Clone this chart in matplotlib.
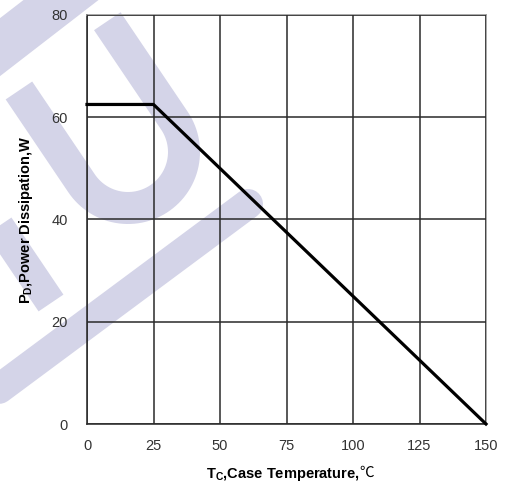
import numpy as np
import matplotlib
matplotlib.use("Agg")
import matplotlib.pyplot as plt
from matplotlib.patches import Polygon
from matplotlib.lines import Line2D

# derating curve
temp_c = [0, 25, 150]
power_w = [62.5, 62.5, 0]
x_ticks = [0, 25, 50, 75, 100, 125, 150]
y_ticks = [0, 20, 40, 60, 80]

W, H = 508, 488
plt.rcParams['font.family'] = ['Liberation Sans', 'DejaVu Sans']
plt.rcParams['mathtext.fontset'] = 'custom'
plt.rcParams['mathtext.rm'] = 'Liberation Sans:bold'
plt.rcParams['mathtext.bf'] = 'Liberation Sans:bold'

fig = plt.figure(figsize=(W / 100, H / 100), dpi=100)
fig.patch.set_facecolor('white')


def px(x, y):
    # pixel (from top-left) -> figure fraction
    return x / W, 1 - y / H


wm = '#d4d4e8'

# watermark: top-left band
fig.add_artist(Polygon([px(30, -5), px(105, -5), px(-5, 80), px(-5, 22)],
                       closed=True, transform=fig.transFigure,
                       facecolor=wm, edgecolor='none', zorder=0))

# watermark: the U
c = np.array([128.0, 152.0])
d = np.array([0.56, 0.83])
d /= np.linalg.norm(d)
n = np.array([d[1], -d[0]])
r1, r2 = 40, 72
len_r, len_l = 120, 112
th = np.linspace(0, np.pi, 60)
outer = [c + r2 * (np.cos(t) * n + np.sin(t) * d) for t in th]
inner = [c + r1 * (np.cos(t) * n + np.sin(t) * d) for t in th[::-1]]
pts = [c + r2 * n - len_r * d] + outer + [c - r2 * n - len_l * d,
                                          c - r1 * n - len_l * d] + inner + [c + r1 * n - len_r * d]
fig.add_artist(Polygon([px(*p) for p in pts], closed=True,
                       transform=fig.transFigure, facecolor=wm,
                       edgecolor='none', zorder=0))

# watermark: left stroke behind the y label
end = np.array([51.0, 303.0])
start = end - 220 * d
fig.add_artist(Line2D([start[0] / W, end[0] / W], [1 - start[1] / H, 1 - end[1] / H],
                      transform=fig.transFigure, color=wm, lw=30 * 0.72,
                      solid_capstyle='butt', zorder=0))

# watermark: lower rising stroke with round end
fig.add_artist(Line2D([-20 / W, 248 / W], [1 - 403 / H, 1 - 204 / H],
                      transform=fig.transFigure, color=wm, lw=30 * 0.72,
                      solid_capstyle='round', zorder=0))

ax = fig.add_axes([87 / W, 1 - 424 / H, 399 / W, 409 / H])
ax.set_facecolor('none')

ax.plot(temp_c, power_w, color='black', lw=2.3, zorder=3, clip_on=False)

ax.set_xlim(0, 150)
ax.set_ylim(0, 80)
ax.set_xticks(x_ticks)
ax.set_yticks(y_ticks)
ax.grid(True, color='#2a2a2a', lw=1.1)
ax.set_axisbelow(False)
ax.tick_params(length=0, labelsize=10.5, labelcolor='#333333')
ax.tick_params(axis='x', pad=11)
ax.tick_params(axis='y', pad=14)

for side in ['left', 'bottom']:
    ax.spines[side].set_color('#333333')
    ax.spines[side].set_linewidth(1.2)
for side in ['top', 'right']:
    ax.spines[side].set_color('#9a9a9a')
    ax.spines[side].set_linewidth(1.2)

ax.set_xlabel(r'T$_{\mathbf{C}}$,Case Temperature,', fontsize=10.5,
              fontweight='bold', va='top')
ax.xaxis.set_label_coords(0.49, -0.103)
ax.annotate('℃', xy=(1, 1), xycoords=ax.xaxis.label, xytext=(0.2, 0),
            textcoords='offset points', ha='left', va='top', fontsize=10.5,
            family=['Noto Sans CJK SC'], color='black')
ax.set_ylabel(r'P$_{\mathbf{D}}$,Power Dissipation,W', fontsize=10.5,
              fontweight='bold', labelpad=12)

fig.savefig('out.png', dpi=100)
